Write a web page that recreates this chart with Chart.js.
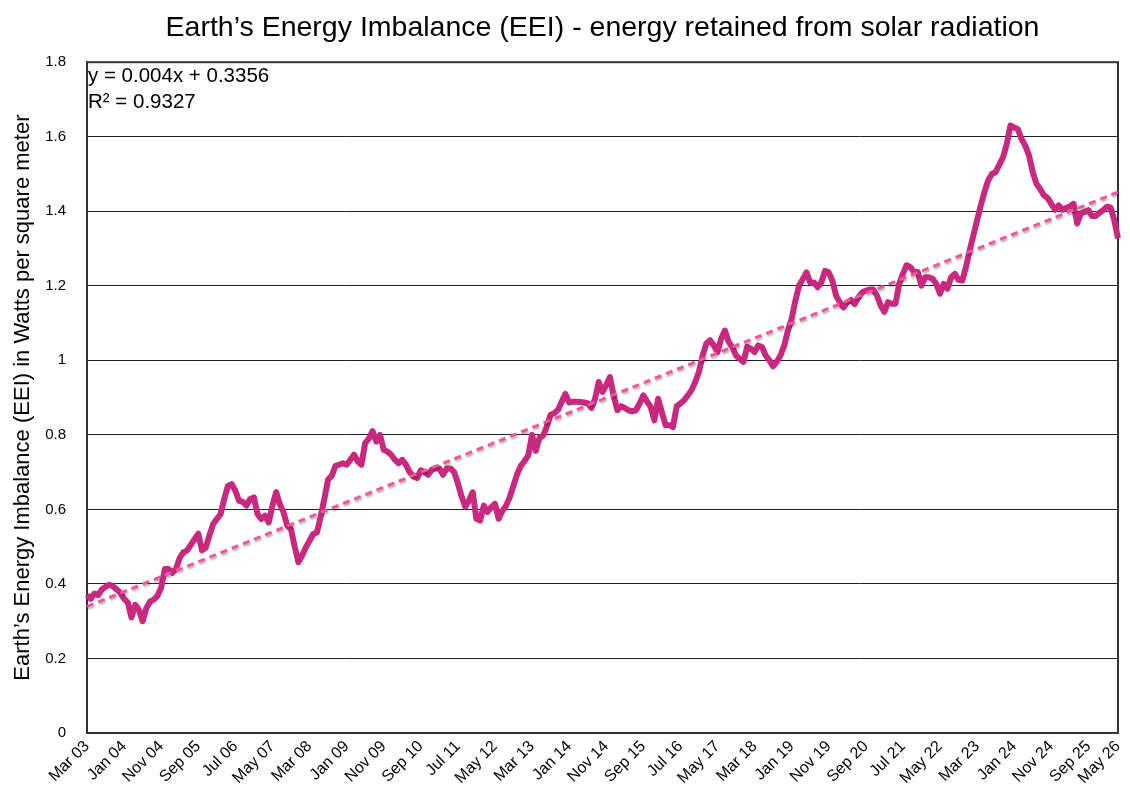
<!DOCTYPE html>
<html>
<head>
<meta charset="utf-8">
<script src="https://cdn.jsdelivr.net/npm/chart.js@4.4.1/dist/chart.umd.min.js"></script>
<style>
  body { margin: 0; background: #fff; }
  canvas { display: block; }
</style>
</head>
<body>
<canvas id="eeiChart" width="1130" height="802"></canvas>
<script>
// monthly EEI values, Mar 03 .. May 26 (W/m²)
const eei = [
    0.37, 0.36, 0.374, 0.37, 0.385, 0.392, 0.398, 0.394, 0.385, 0.376,
    0.36, 0.35, 0.31, 0.344, 0.33, 0.30, 0.335, 0.353, 0.358, 0.368,
    0.39, 0.44, 0.44, 0.43, 0.44, 0.47, 0.485, 0.49, 0.505, 0.52,
    0.535, 0.49, 0.497, 0.53, 0.56, 0.574, 0.587, 0.628, 0.663, 0.668,
    0.65, 0.623, 0.62, 0.61, 0.628, 0.632, 0.587, 0.574, 0.583, 0.565,
    0.61, 0.646, 0.614, 0.592, 0.556, 0.547, 0.50, 0.458, 0.476, 0.498,
    0.516, 0.534, 0.538, 0.58, 0.628, 0.68, 0.69, 0.717, 0.72, 0.724,
    0.72, 0.733, 0.747, 0.729, 0.72, 0.778, 0.79, 0.81, 0.782, 0.80,
    0.76, 0.755, 0.747, 0.733, 0.724, 0.733, 0.72, 0.70, 0.689, 0.684,
    0.705, 0.70, 0.693, 0.707, 0.71, 0.71, 0.693, 0.71, 0.71, 0.70,
    0.67, 0.635, 0.607, 0.624, 0.646, 0.575, 0.57, 0.61, 0.593, 0.606,
    0.615, 0.575, 0.596, 0.61, 0.633, 0.664, 0.695, 0.717, 0.73, 0.745,
    0.80, 0.757, 0.792, 0.798, 0.823, 0.854, 0.858, 0.867, 0.889, 0.91,
    0.887, 0.889, 0.889, 0.888, 0.887, 0.885, 0.872, 0.897, 0.942, 0.915,
    0.933, 0.955, 0.906, 0.866, 0.877, 0.872, 0.866, 0.863, 0.866, 0.884,
    0.906, 0.89, 0.875, 0.839, 0.897, 0.861, 0.826, 0.826, 0.821, 0.877,
    0.884, 0.893, 0.906, 0.92, 0.942, 0.969, 1.013, 1.045, 1.054, 1.04,
    1.022, 1.058, 1.08, 1.05, 1.035, 1.013, 1.004, 0.996, 1.036, 1.031,
    1.022, 1.04, 1.036, 1.013, 1.0, 0.984, 0.996, 1.013, 1.04, 1.08,
    1.111, 1.16, 1.2, 1.218, 1.236, 1.209, 1.209, 1.196, 1.209, 1.24,
    1.236, 1.213, 1.173, 1.156, 1.142, 1.156, 1.162, 1.151, 1.169, 1.182,
    1.187, 1.19, 1.19, 1.174, 1.147, 1.13, 1.156, 1.152, 1.152, 1.205,
    1.232, 1.255, 1.25, 1.237, 1.237, 1.2, 1.223, 1.223, 1.219, 1.205,
    1.179, 1.205, 1.192, 1.223, 1.232, 1.216, 1.214, 1.25, 1.295, 1.335,
    1.375, 1.416, 1.452, 1.483, 1.5, 1.505, 1.525, 1.545, 1.58, 1.63,
    1.625, 1.62, 1.594, 1.576, 1.55, 1.505, 1.474, 1.46, 1.443, 1.436,
    1.42, 1.404, 1.416, 1.404, 1.409, 1.413, 1.42, 1.367, 1.394, 1.398,
    1.403, 1.387, 1.387, 1.396, 1.403, 1.412, 1.41, 1.376, 1.327
];

// linear trend end points (y = 0.004x + 0.3356 at first and last month)
const trendEnds = [0.3396, 1.4516];

// labels shown under the axis: every 10th month, plus the last one
const tickLabels = [
    'Mar 03', 'Jan 04', 'Nov 04', 'Sep 05', 'Jul 06', 'May 07', 'Mar 08',
    'Jan 09', 'Nov 09', 'Sep 10', 'Jul 11', 'May 12', 'Mar 13', 'Jan 14',
    'Nov 14', 'Sep 15', 'Jul 16', 'May 17', 'Mar 18', 'Jan 19', 'Nov 19',
    'Sep 20', 'Jul 21', 'May 22', 'Mar 23', 'Jan 24', 'Nov 24', 'Sep 25',
    'May 26'
];

const monthNames = ['Jan', 'Feb', 'Mar', 'Apr', 'May', 'Jun', 'Jul', 'Aug', 'Sep', 'Oct', 'Nov', 'Dec'];

const months = [];
for (let i = 0; i < eei.length; i++) {
    const mm = (2 + i) % 12;
    const yy = 3 + Math.floor((2 + i) / 12);
    months.push(monthNames[mm] + ' ' + String(yy).padStart(2, '0'));
}

const last = eei.length - 1;
const trendData = eei.map((v, i) => (i === 0 ? trendEnds[0] : (i === last ? trendEnds[1] : null)));

const FONT = 'Liberation Sans, Arial, Helvetica, sans-serif';

// frame round the plot area
const framePlugin = {
    id: 'frame',
    beforeDatasetsDraw(chart) {
        const { ctx, chartArea: a } = chart;
        ctx.save();
        ctx.strokeStyle = '#333';
        ctx.lineWidth = 2;
        ctx.strokeRect(a.left, a.top, a.right - a.left, a.bottom - a.top);
        ctx.restore();
    }
};

// soft grey shadow under the trend line, like the spreadsheet one
const shadowPlugin = {
    id: 'trendShadow',
    beforeDatasetDraw(chart, args) {
        if (args.index !== 1) return;
        const ctx = chart.ctx;
        ctx.save();
        ctx.shadowColor = 'rgba(0, 0, 0, 0.3)';
        ctx.shadowOffsetX = 1;
        ctx.shadowOffsetY = 2;
        ctx.shadowBlur = 2;
    },
    afterDatasetDraw(chart, args) {
        if (args.index !== 1) return;
        chart.ctx.restore();
    }
};

// trend equation in the top left corner
const equationPlugin = {
    id: 'equation',
    afterDraw(chart) {
        const { ctx, chartArea: a } = chart;
        ctx.save();
        ctx.fillStyle = '#000';
        ctx.font = '20.5px ' + FONT;
        ctx.textAlign = 'left';
        ctx.textBaseline = 'alphabetic';
        ctx.fillText('y = 0.004x + 0.3356', a.left + 1, a.top + 20);
        ctx.fillText('R² = 0.9327', a.left + 1, a.top + 46);
        ctx.restore();
    }
};

const data = {
    labels: months,
    datasets: [{
        label: 'EEI',
        data: eei,
        borderColor: '#C8287E',
        backgroundColor: '#C8287E',
        borderWidth: 6,
        borderJoinStyle: 'round',
        pointRadius: 0,
        tension: 0,
        order: 1
    }, {
        label: 'Linear trend',
        data: trendData,
        borderColor: '#F0559F',
        borderWidth: 3,
        borderDash: [7, 5],
        pointRadius: 0,
        spanGaps: true,
        order: 0
    }]
};

const config = {
    type: 'line',
    data: data,
    options: {
        responsive: false,
        animation: false,
        layout: { padding: { left: 0, right: 12, top: 0, bottom: 0 } },
        plugins: {
            legend: { display: false },
            tooltip: { enabled: false },
            title: {
                display: true,
                fullSize: false,
                text: 'Earth’s Energy Imbalance (EEI) - energy retained from solar radiation',
                color: '#000',
                font: { family: FONT, size: 28.5, weight: 'normal' },
                padding: { top: 11, bottom: 17 }
            }
        },
        scales: {
            x: {
                offset: false,
                grid: { display: false, drawTicks: false },
                border: { display: true, color: '#333', width: 2 },
                ticks: {
                    autoSkip: false,
                    minRotation: 45,
                    maxRotation: 45,
                    padding: 4,
                    color: '#000',
                    font: { family: FONT, size: 16 },
                    callback: function (value, index) {
                        if (index === last) return tickLabels[tickLabels.length - 1];
                        if (index % 10 === 0) return tickLabels[index / 10];
                        return null;
                    }
                },
                afterFit: (scale) => {
                    scale.height = 69;
                    scale.paddingLeft = 0;
                    scale.paddingRight = 0;
                }
            },
            y: {
                min: 0,
                max: 1.8,
                grid: { color: '#222', lineWidth: 1, drawTicks: false },
                border: { display: true, color: '#333', width: 2 },
                ticks: {
                    stepSize: 0.2,
                    padding: 21,
                    color: '#000',
                    font: { family: FONT, size: 15 },
                    callback: (value) => String(Number(value.toFixed(2)))
                },
                title: {
                    display: true,
                    text: 'Earth’s Energy Imbalance (EEI) in Watts per square meter',
                    color: '#000',
                    font: { family: FONT, size: 22, weight: 'normal' },
                    padding: { top: 10, bottom: 0 }
                },
                afterFit: (scale) => { scale.width = 87; }
            }
        }
    },
    plugins: [framePlugin, shadowPlugin, equationPlugin]
};

// eslint-disable-next-line
const eeiChart = new Chart(
    document.getElementById('eeiChart'),
    config
);
</script>
</body>
</html>
